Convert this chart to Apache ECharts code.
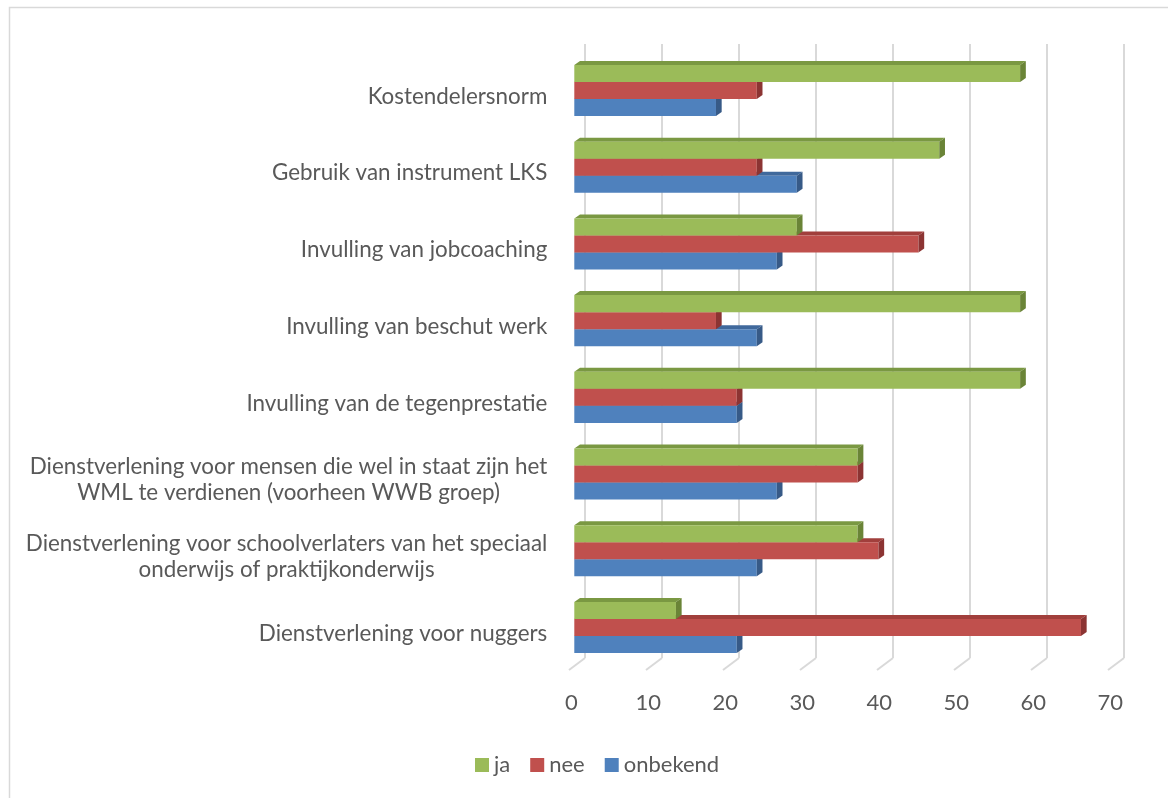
<!DOCTYPE html>
<html>
<head>
<meta charset="utf-8">
<script src="https://cdn.jsdelivr.net/npm/echarts@6/dist/echarts.min.js"></script>
<style>html,body{margin:0;padding:0;background:#fff;}#c{width:1168px;height:798px;}</style>
</head>
<body>
<div id="c"></div>
<script>
const categories = [
  "Kostendelersnorm",
  "Gebruik van instrument LKS",
  "Invulling van jobcoaching",
  "Invulling van beschut werk",
  "Invulling van de tegenprestatie",
  "Dienstverlening voor mensen die wel in staat zijn het\nWML te verdienen (voorheen WWB groep)",
  "Dienstverlening voor schoolverlaters van het speciaal\nonderwijs of praktijkonderwijs",
  "Dienstverlening voor nuggers"
];
const ja       = [57.9, 47.4, 28.9, 57.9, 57.9, 36.8, 36.8, 13.2];
const nee      = [23.7, 23.7, 44.7, 18.4, 21.1, 36.8, 39.5, 65.8];
const onbekend = [18.4, 28.9, 26.3, 23.7, 21.1, 26.3, 23.7, 21.1];
const xTicks = [0, 10, 20, 30, 40, 50, 60, 70];

const FONT = 'Lato';
const TXT = '#595959';

const palette = {
  ja:       {front: '#9BBB59', top: '#7A9842', side: '#6A8437'},
  nee:      {front: '#C0504D', top: '#A13F3C', side: '#8C3433'},
  onbekend: {front: '#4F81BD', top: '#40699C', side: '#375A87'}
};

function makeRender(slot, colors) {
  return function (params, api) {
    const v = api.value(0), c = api.value(1);
    const end = api.coord([v, c]);
    const start = api.coord([0, c]);
    const band = api.size([0, 1])[1];
    const h = band * 0.222;
    const yTop = end[1] - 1.5 * h + slot * h;
    const x0 = start[0], x1 = end[0];
    const dx = 5.7, dy = 4;
    return {
      type: 'group',
      children: [
        {type: 'polygon', shape: {points: [[x0, yTop], [x0 + dx, yTop - dy], [x1 + dx, yTop - dy], [x1, yTop]]}, style: {fill: colors.top}},
        {type: 'rect', shape: {x: x0, y: yTop, width: x1 - x0, height: h}, style: {fill: colors.front}},
        {type: 'polygon', shape: {points: [[x1, yTop], [x1 + dx, yTop - dy], [x1 + dx, yTop + h - dy], [x1, yTop + h]]}, style: {fill: colors.side}}
      ]
    };
  };
}

function barSeries(name, values, slot, z) {
  return {
    type: 'custom',
    name: name,
    xAxisIndex: 0, yAxisIndex: 0,
    z: z,
    itemStyle: {color: palette[name].front},
    renderItem: makeRender(slot, palette[name]),
    encode: {x: 0, y: 1},
    data: values.map((v, i) => [v, i])
  };
}

const chart = echarts.init(document.getElementById('c'), null, {renderer: 'canvas'});
chart.setOption({
  backgroundColor: '#fff',
  animation: false,
  textStyle: {fontFamily: FONT},
  graphic: [{
    type: 'rect', left: 7, top: 5, z: -10,
    shape: {x: 0, y: 0, width: 1300, height: 900},
    style: {fill: 'none', stroke: '#D9D9D9', lineWidth: 1.5}
  }],
  legend: {
    data: ['ja', 'nee', 'onbekend'],
    left: 470, top: 749,
    icon: 'rect', itemWidth: 14, itemHeight: 14, itemGap: 20,
    textStyle: {fontSize: 22, color: TXT, fontFamily: FONT}
  },
  grid: [
    {left: 574.3, width: 539, top: 52.2, height: 613.6},
    {left: 585, width: 539, top: 44, bottom: 140}
  ],
  xAxis: [
    {
      type: 'value', gridIndex: 0, min: 0, max: 70, interval: 10,
      axisLine: {show: false}, axisTick: {show: false}, splitLine: {show: false},
      axisLabel: {fontSize: 22, color: TXT, fontFamily: FONT, margin: 26, padding: [0, 6, 0, 0]}
    },
    {
      type: 'value', gridIndex: 1, min: 0, max: 70, interval: 10,
      axisLine: {show: false}, axisTick: {show: false}, axisLabel: {show: false},
      splitLine: {show: true, lineStyle: {color: '#D9D9D9', width: 2}}
    }
  ],
  yAxis: [
    {
      type: 'category', gridIndex: 0, data: categories, inverse: true,
      axisLine: {show: false}, axisTick: {show: false}, splitLine: {show: false},
      axisLabel: {
        margin: 27, align: 'right', padding: [12, 0, 0, 0],
        formatter: function (val) { return val.split('\n').map(l => '{c|' + l + '}').join('\n'); },
        rich: {c: {align: 'center', fontSize: 22.4, color: TXT, fontFamily: FONT, lineHeight: 26}}
      }
    },
    {
      type: 'value', gridIndex: 1, min: 0, max: 1, show: false
    }
  ],
  series: [
    {
      type: 'custom', name: 'floor', xAxisIndex: 1, yAxisIndex: 1, z: 1, silent: true,
      renderItem: function (params, api) {
        const p = api.coord([api.value(0), 0]);
        return {type: 'line', shape: {x1: p[0], y1: p[1], x2: p[0] - 16, y2: p[1] + 12}, style: {stroke: '#D9D9D9', lineWidth: 2}};
      },
      encode: {x: 0},
      data: xTicks.map(v => [v])
    },
    barSeries('onbekend', onbekend, 2, 3),
    barSeries('nee', nee, 1, 4),
    barSeries('ja', ja, 0, 5)
  ]
});
</script>
</body>
</html>
